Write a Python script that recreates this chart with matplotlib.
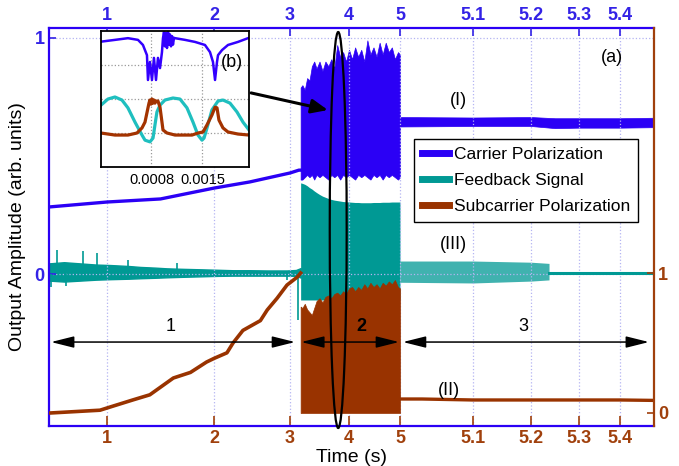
import numpy as np
import matplotlib
matplotlib.use("Agg")
import matplotlib.pyplot as plt
from matplotlib.patches import Ellipse
from matplotlib.lines import Line2D

plt.rcParams['font.family'] = ['Liberation Sans', 'DejaVu Sans']

BLUE = '#2b00f5'
TEAL = '#009994'
BROWN = '#993300'
TICK_BLUE = '#3322e6'
TICK_BROWN = '#a0400c'

# time axis is warped piecewise (tick times -> screen positions)
axis_t = [0.46, 1, 2, 3, 4, 5, 5.1, 5.2, 5.3, 5.4, 5.48]
axis_pos = [49, 107, 214, 290, 349, 400, 473, 531, 579, 620, 654]
tick_t = [1, 2, 3, 4, 5, 5.1, 5.2, 5.3, 5.4]
tick_labels = ['1', '2', '3', '4', '5', '5.1', '5.2', '5.3', '5.4']

# region 1 (left axis units for carrier / feedback, right axis for subcarrier)
carrier_pre_t = [0.46, 1.0, 1.5, 2.0, 2.47, 3.0, 3.15, 3.18]
carrier_pre_v = [0.284, 0.305, 0.318, 0.364, 0.39, 0.428, 0.44, 0.44]

fb_pre_t = [0.46, 0.6, 0.75, 0.9, 1.03, 1.2, 1.31, 1.45, 1.56, 1.7, 1.87, 2.04,
            2.25, 2.47, 2.7, 2.96, 3.1, 3.18]
fb_pre_hi = [0.045, 0.05, 0.045, 0.04, 0.038, 0.034, 0.03, 0.027, 0.024, 0.022,
             0.02, 0.018, 0.016, 0.016, 0.015, 0.015, 0.017, 0.025]
fb_pre_lo = [-0.028, -0.032, -0.028, -0.024, -0.022, -0.02, -0.018, -0.016, -0.014,
             -0.012, -0.01, -0.008, -0.007, -0.007, -0.007, -0.007, -0.008, -0.015]
fb_spike_t = [0.48, 0.53, 0.62, 0.78, 0.91, 1.2, 1.65, 2.96, 3.14]
fb_spike_v = [-0.055, 0.10, -0.05, 0.098, 0.09, 0.06, 0.047, -0.025, -0.195]

sub_pre_t = [0.47, 0.935, 1.03, 1.24, 1.40, 1.62, 1.78, 1.93, 2.0, 2.17, 2.25,
             2.38, 2.61, 2.70, 2.83, 2.96, 3.12, 3.18]
sub_pre_v = [0.0, 0.02, 0.043, 0.093, 0.13, 0.25, 0.29, 0.364, 0.39, 0.43, 0.50,
             0.59, 0.66, 0.736, 0.82, 0.914, 0.97, 1.0]

# region 2 (chaotic) envelopes
chaos_t = [3.18, 3.21, 3.25, 3.29, 3.33, 3.37, 3.41, 3.45, 3.50, 3.55, 3.60, 3.65,
           3.70, 3.75, 3.80, 3.85, 3.90, 3.95, 4.00, 4.06, 4.12, 4.18, 4.24, 4.30,
           4.36, 4.42, 4.48, 4.54, 4.60, 4.66, 4.72, 4.78, 4.84, 4.90, 4.96, 5.0]
carrier_hi = [0.79, 0.80, 0.78, 0.83, 0.82, 0.88, 0.90, 0.87, 0.90, 0.86, 0.90, 0.88,
              0.91, 0.87, 0.97, 0.92, 0.94, 0.90, 0.95, 0.91, 0.96, 0.92, 0.95, 0.90,
              0.99, 0.93, 0.96, 0.92, 0.98, 0.93, 0.98, 0.94, 0.96, 0.91, 0.94, 0.93]
carrier_lo = [0.40, 0.40, 0.41, 0.42, 0.41, 0.42, 0.40, 0.42, 0.41, 0.42, 0.41, 0.40,
              0.42, 0.41, 0.42, 0.40, 0.42, 0.41, 0.42, 0.41, 0.40, 0.42, 0.41, 0.42,
              0.41, 0.40, 0.42, 0.41, 0.42, 0.40, 0.42, 0.41, 0.42, 0.41, 0.40, 0.41]
fb_hi = [0.386, 0.384, 0.38, 0.374, 0.366, 0.36, 0.352, 0.345, 0.337, 0.33, 0.325,
         0.32, 0.316, 0.313, 0.311, 0.309, 0.307, 0.306, 0.305, 0.304, 0.303, 0.303,
         0.302, 0.302, 0.302, 0.302, 0.303, 0.303, 0.303, 0.304, 0.304, 0.304, 0.305,
         0.305, 0.305, 0.305]
fb_lo = [-0.11] * len(chaos_t)
sub_hi = [0.76, 0.75, 0.78, 0.74, 0.72, 0.70, 0.75, 0.80, 0.82, 0.79, 0.83, 0.84,
          0.82, 0.85, 0.86, 0.84, 0.87, 0.85, 0.89, 0.90, 0.87, 0.90, 0.88, 0.92,
          0.89, 0.93, 0.90, 0.92, 0.89, 0.93, 0.91, 0.94, 0.92, 0.95, 0.90, 0.89]

# region 3
post_t = [5.0, 5.1, 5.2, 5.25, 5.3, 5.4, 5.48]
carrier_post_hi = [0.665, 0.663, 0.665, 0.66, 0.66, 0.66, 0.662]
carrier_post_lo = [0.625, 0.627, 0.627, 0.618, 0.62, 0.62, 0.622]
fb_osc_t = [5.0, 5.1, 5.2, 5.2375]
fb_osc_hi = [0.055, 0.055, 0.05, 0.045]
fb_osc_lo = [-0.035, -0.038, -0.03, -0.025]
fb_flat_t = [5.2375, 5.48]
fb_flat_v = [0.004, 0.004]
sub_post_t = [5.0, 5.03, 5.1, 5.2, 5.3, 5.4, 5.48]
sub_post_v = [0.10, 0.10, 0.093, 0.093, 0.093, 0.093, 0.09]

# inset (b): time in ms, arbitrary units
inset_blue_t = [0.117, 0.299, 0.477, 0.615, 0.683, 0.738, 0.752, 0.779, 0.807, 0.834,
                0.862, 0.889, 0.917, 0.944, 0.958, 0.972, 0.985, 0.999, 1.013, 1.027,
                1.040, 1.054, 1.068, 1.082, 1.095, 1.109, 1.123, 1.260, 1.397, 1.534,
                1.603, 1.644, 1.672, 1.699, 1.713, 1.768, 1.850, 1.987, 2.124]
inset_blue_v = [3.69, 3.74, 3.79, 3.74, 3.59, 3.29, 2.56, 3.09, 2.56, 3.21,
                2.56, 3.21, 2.91, 3.38, 3.79, 3.97, 3.55, 3.95, 3.50, 3.97,
                3.60, 3.90, 3.55, 3.85, 3.60, 3.80, 3.79, 3.74, 3.68, 3.59,
                3.38, 3.09, 2.56, 3.09, 3.29, 3.44, 3.59, 3.68, 3.79]
inset_teal_t = [0.107, 0.203, 0.299, 0.395, 0.477, 0.574, 0.670, 0.711, 0.779, 0.821,
                0.848, 0.875, 0.917, 0.985, 1.095, 1.191, 1.287, 1.370, 1.438, 1.493,
                1.521, 1.562, 1.630, 1.713, 1.781, 1.877, 1.973, 2.056, 2.138]
inset_teal_v = [1.82, 2.0, 2.06, 1.97, 1.74, 1.32, 0.94, 0.79, 0.74, 0.85,
                1.24, 1.62, 1.82, 1.97, 2.03, 2.0, 1.74, 1.32, 0.94, 0.79,
                0.85, 1.15, 1.68, 1.94, 1.97, 1.88, 1.62, 1.32, 1.09]
inset_brown_t = [0.107, 0.299, 0.477, 0.601, 0.670, 0.711, 0.752, 0.766, 0.779, 0.793,
                 0.807, 0.821, 0.834, 0.848, 0.862, 0.889, 0.917, 0.944, 0.958, 1.013,
                 1.123, 1.356, 1.438, 1.507, 1.562, 1.630, 1.672, 1.699, 1.726, 1.781,
                 1.850, 1.987, 2.138]
inset_brown_v = [1.0, 0.94, 0.94, 1.0, 1.15, 1.32, 1.74, 1.88, 1.97, 1.85,
                 2.0, 1.88, 1.97, 1.88, 1.94, 1.94, 1.76, 1.32, 1.09, 1.0,
                 0.94, 0.94, 1.0, 1.03, 1.24, 1.53, 1.76, 1.74, 1.38, 1.15,
                 1.03, 0.97, 0.94]


def fwd(t):
    return np.interp(t, axis_t, axis_pos)


def inv(p):
    return np.interp(p, axis_pos, axis_t)


fig = plt.figure(figsize=(6.79, 4.66), dpi=100)
ax = fig.add_axes([0.0722, 0.0858, 0.891, 0.854])
ax.set_xscale('function', functions=(fwd, inv))
ax2 = ax.twinx()
ax.set_xlim(0.46, 5.48)
ax.set_ylim(-0.644, 1.042)
ax2.set_ylim(-0.093, 2.75)

# feedback signal (left axis)
ax.fill_between(fb_pre_t, fb_pre_lo, fb_pre_hi, color=TEAL, lw=1.0)
ax.vlines(fb_spike_t, 0, fb_spike_v, color=TEAL, lw=1.2)
ax.fill_between(chaos_t, fb_lo, fb_hi, color=TEAL, lw=0)
ax.fill_between(fb_osc_t, fb_osc_lo, fb_osc_hi, color=TEAL, alpha=0.75, lw=0)
ax.plot(fb_flat_t, fb_flat_v, color=TEAL, lw=2.2)

# carrier polarization (left axis)
ax.plot(carrier_pre_t, carrier_pre_v, color=BLUE, lw=2.4)
ax.fill_between(chaos_t, carrier_lo, carrier_hi, color=BLUE, lw=0.5)
ax.fill_between(post_t, carrier_post_lo, carrier_post_hi, color=BLUE, lw=0.5)

# subcarrier polarization (right axis)
ax2.plot(sub_pre_t, sub_pre_v, color=BROWN, lw=2.6)
ax2.fill_between(chaos_t, 0.0, sub_hi, color=BROWN, lw=0.5)
ax2.plot(sub_post_t, sub_post_v, color=BROWN, lw=2.4)

# axes styling
ax.set_xticks(tick_t)
ax.set_xticklabels(tick_labels)
ax.set_yticks([0, 1])
ax.set_yticklabels(['0', '1'])
ax2.set_yticks([0, 1])
ax2.set_yticklabels(['0', '1'])
ax.grid(axis='x', ls=':', color='#b4b4f2', lw=0.9)
ax.grid(axis='y', ls=':', color='#b4b4f2', lw=0.9)

ax.tick_params(axis='x', direction='in', length=7, width=1.2, color=TICK_BROWN,
               labelcolor=TICK_BROWN, labelsize=13, pad=3,
               bottom=True, top=False, labelbottom=True, labeltop=False)
ax.tick_params(axis='y', direction='in', length=5, width=1.2, color=TICK_BLUE,
               labelcolor=TICK_BLUE, labelsize=13, pad=3)
ax2.xaxis.set_visible(True)
ax2.tick_params(axis='x', direction='in', length=6, width=1.2, color=TICK_BLUE,
                labelcolor=TICK_BLUE, labelsize=13, pad=3,
                bottom=False, top=True, labelbottom=False, labeltop=True)
ax2.tick_params(axis='y', direction='in', length=5, width=1.2, color=TICK_BROWN,
                labelcolor=TICK_BROWN, labelsize=13, pad=3)
for lab in ax.get_xticklabels() + ax.get_yticklabels() + ax2.get_xticklabels() + ax2.get_yticklabels():
    lab.set_fontweight('bold')

for side in ['left', 'top', 'bottom']:
    ax.spines[side].set_color(BLUE)
    ax.spines[side].set_linewidth(1.6)
    ax2.spines[side].set_visible(False)
ax.spines['right'].set_visible(False)
ax2.spines['right'].set_color(TICK_BROWN)
ax2.spines['right'].set_linewidth(1.6)

ax.set_xlabel('Time (s)', fontsize=14, labelpad=1)
ax.set_ylabel('Output Amplitude (arb. units)', fontsize=14, labelpad=6)

# region arrows and labels
arrow_style = '<|-|>,head_length=1.4,head_width=0.35'
regions = [(0.479, 3.085, '1', 'normal', 1.59),
           (3.19, 4.98, '2', 'bold', 4.235),
           (5.004, 5.468, '3', 'normal', 5.186)]
for t0, t1, lab, wt, tl in regions:
    ax2.annotate('', xy=(t1, 0.211), xytext=(t0, 0.211),
                 xycoords=('data', 'axes fraction'), textcoords=('data', 'axes fraction'),
                 arrowprops=dict(arrowstyle=arrow_style, mutation_scale=10,
                                 color='black', lw=1.1, shrinkA=0, shrinkB=0))
    ax2.text(tl, 0.249, lab, transform=ax2.get_xaxis_transform(), ha='center',
             va='center', fontsize=13, fontweight=wt)

ax2.add_patch(Ellipse((0.478, 0.4925), 0.028, 0.995, transform=ax2.transAxes,
                      fill=False, ec='black', lw=1.6, clip_on=False))
ax2.annotate('', xy=(0.461, 0.794), xytext=(0.334, 0.837), xycoords='axes fraction',
             arrowprops=dict(arrowstyle='-|>,head_length=0.7,head_width=0.3',
                             mutation_scale=14, color='black', lw=2.2,
                             shrinkA=0, shrinkB=0))

ax2.text(0.931, 0.925, '(a)', transform=ax2.transAxes, ha='center', va='center', fontsize=13)
ax2.text(0.676, 0.817, '(I)', transform=ax2.transAxes, ha='center', va='center', fontsize=13)
ax2.text(0.668, 0.457, '(III)', transform=ax2.transAxes, ha='center', va='center', fontsize=13)
ax2.text(0.661, 0.0905, '(II)', transform=ax2.transAxes, ha='center', va='center', fontsize=13)

handles = [Line2D([], [], color=BLUE, lw=5), Line2D([], [], color=TEAL, lw=5),
           Line2D([], [], color=BROWN, lw=5)]
leg = ax2.legend(handles, ['Carrier Polarization', 'Feedback Signal', 'Subcarrier Polarization'],
                 loc='upper left', bbox_to_anchor=(0.603, 0.721), borderaxespad=0,
                 fontsize=12.5, frameon=True, fancybox=False, edgecolor='black',
                 framealpha=1, handlelength=1.6, handletextpad=0.25, labelspacing=0.62,
                 borderpad=0.45)
leg.get_frame().set_linewidth(1.0)

# inset (b)
axin = fig.add_axes([0.1487, 0.6416, 0.218, 0.2918])
axin.plot(inset_blue_t, inset_blue_v, color='#3300ff', lw=1.8)
axin.plot(inset_teal_t, inset_teal_v, color='#1fbfbf', lw=2.3)
axin.plot(inset_brown_t, inset_brown_v, color='#a33300', lw=2.3)
axin.set_xlim(0.107, 2.138)
axin.set_ylim(0, 4)
axin.set_xticks([0.8, 1.5])
axin.set_xticklabels(['0.0008', '0.0015'])
axin.set_yticks([1, 2, 3])
axin.set_yticklabels([])
axin.tick_params(length=0, labelsize=10.5, pad=4)
axin.grid(True, ls=':', color='#999999', lw=0.9)
for s in axin.spines.values():
    s.set_linewidth(1.3)
axin.text(0.885, 0.772, '(b)', transform=axin.transAxes, ha='center', va='center', fontsize=13)

fig.savefig('out.png', dpi=100)
